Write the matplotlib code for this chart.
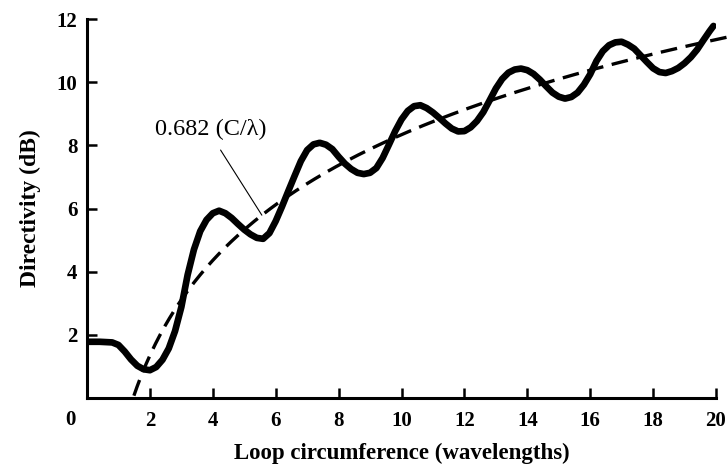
import numpy as np
import matplotlib
matplotlib.use("Agg")
import matplotlib.pyplot as plt

# measured directivity of the circular loop (dB) vs circumference C/lambda
circumference = [0.0, 0.4, 0.8, 1.0, 1.2, 1.4, 1.6, 1.8, 2.0, 2.2, 2.4, 2.6, 2.8,
                 3.0, 3.2, 3.4, 3.6, 3.8, 4.0, 4.2, 4.4, 4.6, 4.8, 5.0, 5.2, 5.4,
                 5.6, 5.8, 6.0, 6.2, 6.4, 6.6, 6.8, 7.0, 7.2, 7.4, 7.6, 7.8, 8.0,
                 8.2, 8.4, 8.6, 8.8, 9.0, 9.2, 9.4, 9.6, 9.8, 10.0, 10.2, 10.4,
                 10.6, 10.8, 11.0, 11.2, 11.4, 11.6, 11.8, 12.0, 12.2, 12.4, 12.6,
                 12.8, 13.0, 13.2, 13.4, 13.6, 13.8, 14.0, 14.2, 14.4, 14.6, 14.8,
                 15.0, 15.2, 15.4, 15.6, 15.8, 16.0, 16.2, 16.4, 16.6, 16.8, 17.0,
                 17.2, 17.4, 17.6, 17.8, 18.0, 18.2, 18.4, 18.6, 18.8, 19.0, 19.2,
                 19.4, 19.6, 19.8, 19.92]
directivity = [1.78, 1.78, 1.76, 1.68, 1.47, 1.22, 1.02, 0.91, 0.88, 0.98, 1.21,
               1.57, 2.12, 2.88, 3.90, 4.70, 5.28, 5.64, 5.85, 5.93, 5.85, 5.70,
               5.51, 5.33, 5.18, 5.07, 5.04, 5.22, 5.60, 6.06, 6.55, 7.03, 7.50,
               7.85, 8.03, 8.08, 8.02, 7.88, 7.64, 7.42, 7.25, 7.13, 7.09, 7.13,
               7.28, 7.60, 8.02, 8.45, 8.82, 9.09, 9.24, 9.27, 9.18, 9.04, 8.87,
               8.69, 8.53, 8.44, 8.45, 8.57, 8.77, 9.05, 9.42, 9.80, 10.10, 10.30,
               10.40, 10.43, 10.38, 10.26, 10.08, 9.87, 9.67, 9.54, 9.48, 9.53,
               9.67, 9.92, 10.25, 10.67, 10.98, 11.17, 11.26, 11.28, 11.19, 11.06,
               10.85, 10.64, 10.44, 10.32, 10.29, 10.35, 10.45, 10.60, 10.79, 11.03,
               11.33, 11.62, 11.78]

# approximation D = 0.682 (C/lambda), in dB
coef = 0.682
approx_label = "0.682 (C/λ)"

xticks = [2, 4, 6, 8, 10, 12, 14, 16, 18, 20]
yticks = [2, 4, 6, 8, 10, 12]

serif = "Liberation Serif"

fig = plt.figure(figsize=(7.28, 4.73), dpi=100)
ax = fig.add_axes([87 / 728, 1 - 398 / 473, 629 / 728, 379 / 473])

c = np.linspace(1.0, 20.6, 400)
d = 10 * np.log10(coef * c)
keep = d >= 0
ax.plot(c[keep], d[keep], color="black", lw=2.4, dashes=(5.0, 2.6),
        clip_on=False, zorder=2)
ax.plot(circumference, directivity, color="black", lw=4.8,
        solid_capstyle="round", solid_joinstyle="round", zorder=3)

# leader from the formula text to the dashed curve
c_pt = 5.56
ax.annotate(approx_label, xy=(c_pt, 10 * np.log10(coef * c_pt)),
            xytext=(2.17, 8.32), textcoords="data", ha="left", va="baseline",
            fontsize=17.5, family=serif,
            arrowprops=dict(arrowstyle="-", lw=0.8, color="black",
                            shrinkA=6, shrinkB=0, relpos=(0.53, 0.0)))

ax.set_xlim(0, 20)
ax.set_ylim(0, 12)
ax.spines["top"].set_visible(False)
ax.spines["right"].set_visible(False)
for s in ("left", "bottom"):
    ax.spines[s].set_linewidth(2.2)

ax.set_xticks(xticks)
ax.set_yticks(yticks)
ax.set_xticklabels([str(t) for t in xticks])
ax.set_yticklabels([str(t) for t in yticks])
ax.tick_params(direction="in", length=7.5, width=1.8, labelsize=15, pad=7)
ax.tick_params(axis="x", pad=9)
for lab in ax.get_xticklabels() + ax.get_yticklabels():
    lab.set_family(serif)
    lab.set_fontweight("bold")

# shared origin label
ax.annotate("0", xy=(0, 0), xycoords="axes fraction", xytext=(-17, -22),
            textcoords="offset pixels", ha="center", va="center",
            fontsize=15, family=serif, fontweight="bold")

ax.set_xlabel("Loop circumference (wavelengths)", family=serif,
              fontweight="bold", fontsize=16.5, labelpad=9)
ax.set_ylabel("Directivity (dB)", family=serif, fontweight="bold",
              fontsize=17, labelpad=11)

fig.savefig("out.png", dpi=100)
